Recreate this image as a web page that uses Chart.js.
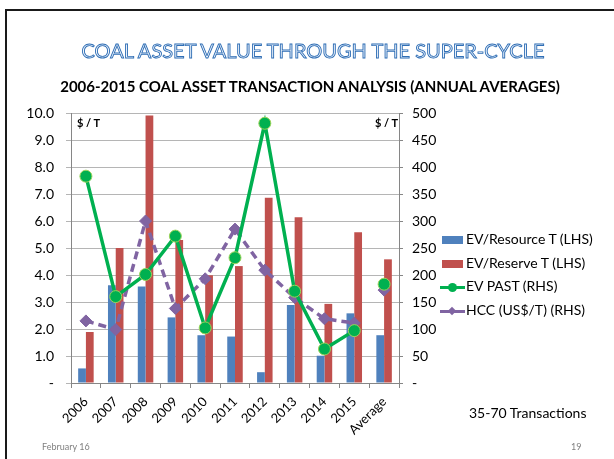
<!DOCTYPE html>
<html><head><meta charset="utf-8">
<script src="https://cdn.jsdelivr.net/npm/chart.js@4.4.0/dist/chart.umd.min.js"></script>
<style>
html,body{margin:0;padding:0;background:#fff;}
#wrap{position:relative;width:614px;height:459px;overflow:hidden;font-family:Lato,'Liberation Sans',sans-serif;}
#frame{position:absolute;left:5px;top:9px;width:700px;height:600px;border-left:2px solid #1a1a1a;border-top:2px solid #1a1a1a;}
canvas{position:absolute;left:0;top:0;}
.t{position:absolute;white-space:nowrap;}
#title{left:0;width:626px;text-align:center;top:38px;font-size:20px;color:#eef4fc;-webkit-text-stroke:0.9px #2F6EB5;}
#sub{left:0;width:620px;text-align:center;top:77px;font-size:15px;font-weight:bold;color:#000;}
.unit{font-size:11px;font-weight:bold;color:#000;top:116px;}
#legend{position:absolute;left:440px;top:229px;}
.li{position:relative;height:23.7px;font-size:14px;color:#000;}
.li span.txt{position:absolute;left:26px;top:1px;white-space:nowrap;}
.ic{position:absolute;}
#note{left:469px;top:404px;font-size:14px;color:#000;}
#date{left:42px;top:441px;font-size:9px;color:#808080;}
#page{left:571px;top:441px;font-size:9px;color:#808080;}
</style></head><body>
<div id="wrap">
<canvas id="c" width="614" height="459"></canvas>
<div id="frame"></div>
<div class="t" id="title">COAL ASSET VALUE THROUGH THE SUPER-CYCLE</div>
<div class="t" id="sub">2006-2015 COAL ASSET TRANSACTION ANALYSIS (ANNUAL AVERAGES)</div>
<div class="t unit" style="left:77px">$ / T</div>
<div class="t unit" style="left:375px">$ / T</div>
<div id="legend"></div>
<div class="t" id="note">35-70 Transactions</div>
<div class="t" id="date">February 16</div>
<div class="t" id="page">19</div>
</div>
<script>
const categories = ['2006','2007','2008','2009','2010','2011','2012','2013','2014','2015','Average'];
const evResource = [0.54,3.62,3.57,2.43,1.77,1.72,0.40,2.89,1.01,2.58,1.77];
const evReserve  = [1.89,5.00,9.91,5.30,3.99,4.33,6.86,6.14,2.93,5.58,4.58];
const evPast     = [383,160,201,272,102,232,481,170,63,97,183];
const hcc        = [115,99,300,138,193,285,209,158,119,111,172];
const leftTickLabels  = ['-','1.0','2.0','3.0','4.0','5.0','6.0','7.0','8.0','9.0','10.0'];
const rightTickLabels = ['-','50','100','150','200','250','300','350','400','450','500'];
const seriesNames = ['EV/Resource T (LHS)','EV/Reserve T (LHS)','EV PAST (RHS)','HCC (US$/T) (RHS)'];

const FONT = 'Lato, "Liberation Sans", sans-serif';
const lastIdx = categories.length - 1;
const hideToAvg = ctx => ctx.p1DataIndex === lastIdx ? 'rgba(0,0,0,0)' : undefined;

const chart = new Chart(document.getElementById('c'), {
  data: {
    labels: categories,
    datasets: [
      {type:'bar', label:seriesNames[0], data:evResource, backgroundColor:'#4F81BD', yAxisID:'y', order:3, categoryPercentage:0.52, barPercentage:1},
      {type:'bar', label:seriesNames[1], data:evReserve, backgroundColor:'#C0504D', yAxisID:'y', order:3, categoryPercentage:0.52, barPercentage:1},
      {type:'line', label:seriesNames[2], data:evPast, borderColor:'#00B050', borderWidth:3.5, tension:0,
        pointRadius:6, pointBackgroundColor:'#00B050', pointBorderColor:'#9BD35A', pointBorderWidth:1,
        yAxisID:'y1', order:1, segment:{borderColor:hideToAvg}},
      {type:'line', label:seriesNames[3], data:hcc, borderColor:'#8064A2', borderWidth:3.5, borderDash:[8,5], tension:0,
        pointStyle:'rectRot', pointRadius:6, pointBackgroundColor:'#8064A2', pointBorderColor:'#8064A2', pointBorderWidth:1,
        yAxisID:'y1', order:2, segment:{borderColor:hideToAvg}}
    ]
  },
  options: {
    responsive:false, animation:false,
    layout:{padding:{top:113,left:0,right:0,bottom:0}},
    plugins:{legend:{display:false}, tooltip:{enabled:false}, title:{display:false}},
    scales:{
      x:{offset:true,
        grid:{offset:true, drawOnChartArea:false, drawTicks:true, tickLength:5, color:'#868686'},
        border:{display:true, color:'#868686'},
        ticks:{minRotation:45, maxRotation:45, autoSkip:false, color:'#000', padding:6, font:{family:FONT, size:13}},
        afterFit:s=>{s.height = 76;}},
      y:{position:'left', min:0, max:10,
        ticks:{stepSize:1, callback:(v,i)=>leftTickLabels[i], color:'#000', padding:12, font:{family:FONT, size:14}},
        grid:{color:'#b5b5b5', tickLength:5, drawTicks:true},
        border:{display:true, color:'#868686'},
        afterFit:s=>{s.width = 71;}},
      y1:{position:'right', min:0, max:500,
        ticks:{stepSize:50, callback:(v,i)=>rightTickLabels[i], color:'#000', padding:9, font:{family:FONT, size:14}},
        grid:{drawOnChartArea:false, tickLength:4, color:'#868686'},
        border:{display:true, color:'#868686'},
        afterFit:s=>{s.width = 215;}}
    }
  }
});

// HTML legend built from the chart's datasets
const lg = document.getElementById('legend');
chart.data.datasets.forEach(ds => {
  const row = document.createElement('div'); row.className = 'li';
  if (ds.type === 'bar') {
    const r = document.createElement('div'); r.className='ic';
    r.style.cssText = 'left:2px;top:7px;width:21px;height:8px;background:'+ds.backgroundColor;
    row.appendChild(r);
  } else {
    const l = document.createElement('div'); l.className='ic';
    l.style.cssText = 'left:0;top:10px;width:25px;height:3px;background:'+ds.borderColor;
    row.appendChild(l);
    const m = document.createElement('div'); m.className='ic';
    if (ds.pointStyle === 'rectRot') {
      m.style.cssText = 'left:9px;top:8px;width:6px;height:6px;transform:rotate(45deg);background:'+ds.pointBackgroundColor;
    } else {
      m.style.cssText = 'left:8px;top:7px;width:9px;height:9px;border-radius:50%;background:'+ds.pointBackgroundColor;
    }
    row.appendChild(m);
  }
  const t = document.createElement('span'); t.className='txt'; t.textContent = ds.label;
  row.appendChild(t);
  lg.appendChild(row);
});
</script>
</body></html>
